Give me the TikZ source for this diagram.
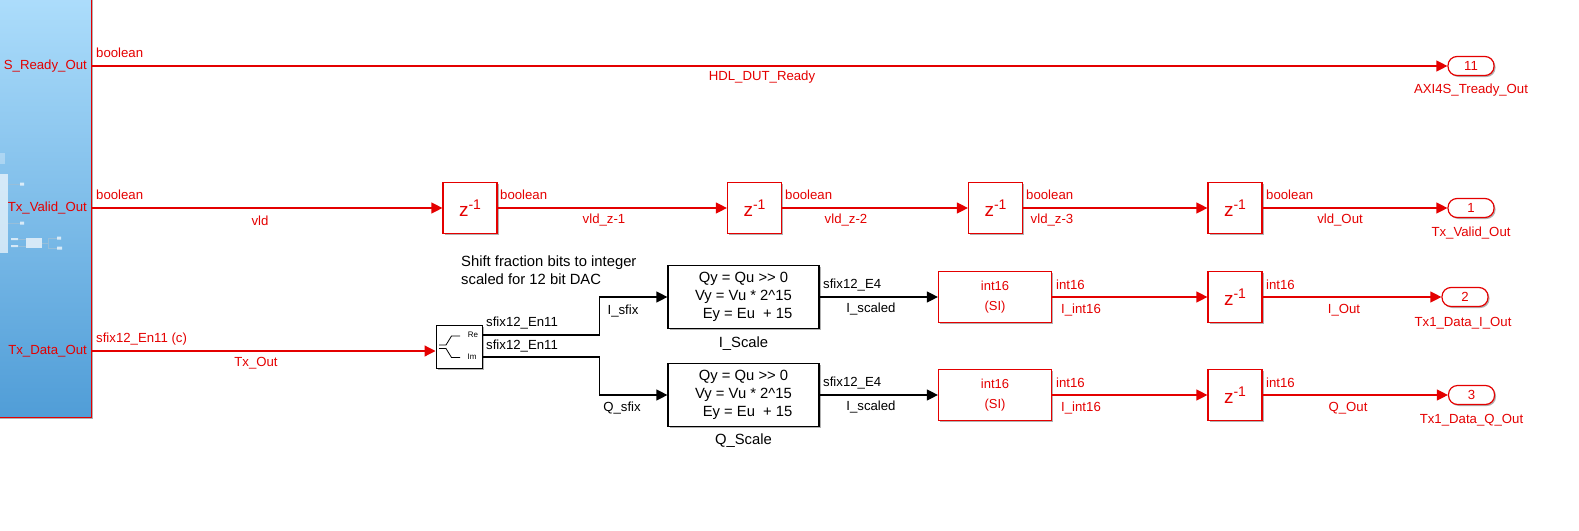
\documentclass[tikz,border=0pt]{standalone}
\usepackage{fontspec}
\setmainfont{Liberation Sans}
\usetikzlibrary{arrows.meta,shadows}

\definecolor{simred}{RGB}{228,0,0}
\definecolor{blocktop}{RGB}{174,222,252}
\definecolor{blockbot}{RGB}{80,157,215}
\definecolor{iconline}{RGB}{150,190,218}

% delay block text
\newcommand{\zdelay}{{\fontsize{19}{19}\selectfont z\raisebox{6.5pt}{\fontsize{14}{14}\selectfont -1}}}

\begin{document}
\begin{tikzpicture}[x=1pt, y=-1pt,
  lbl/.style={font=\fontsize{13.2}{15}\selectfont, text=simred, inner sep=0pt},
  blbl/.style={font=\fontsize{13.2}{15}\selectfont, text=black, inner sep=0pt},
  note/.style={font=\fontsize{14.8}{18}\selectfont, text=black, inner sep=0pt, align=left},
  blkshadow/.style={drop shadow={shadow xshift=1.5pt, shadow yshift=-1.5pt, opacity=0.3, fill=black}},
  delay/.style={draw=simred, fill=white, line width=1.2pt, minimum width=54pt, minimum height=51pt, inner sep=0pt, text=simred, blkshadow},
  conv/.style={draw=simred, fill=white, line width=1.2pt, minimum width=113pt, minimum height=51pt, inner sep=0pt, text=simred, align=center, font=\fontsize{13}{19.6}\selectfont, blkshadow},
  gain/.style={draw=black, fill=white, line width=1.2pt, minimum width=151pt, minimum height=63pt, inner sep=0pt, align=center, font=\fontsize{14.8}{18}\selectfont, blkshadow},
  splitter/.style={draw=black, fill=white, line width=1pt, minimum width=46pt, minimum height=43pt, inner sep=0pt, blkshadow},
  outport/.style={draw=simred, fill=white, line width=1.2pt, rounded corners=9pt, minimum width=46pt, minimum height=19pt, inner sep=0pt, text=simred, font=\fontsize{13.2}{15}\selectfont, blkshadow},
  redsig/.style={draw=simred, line width=1.2pt, -{Triangle[length=11pt, width=11pt]}},
  blacksig/.style={draw=black, line width=1.2pt, -{Triangle[length=11pt, width=11pt]}},
]
\clip (0,0) rectangle (1579,530);

% ========== Subsystem block (left edge) ==========
\draw[top color=blocktop, bottom color=blockbot, draw=simred, line width=1.6pt, blkshadow] (-10,-10) rectangle (91.5,417.5);

% faint icon inside the block
\fill[white, opacity=0.3] (-2,153) rectangle (5,164);
\fill[white, opacity=0.65] (-2,174) rectangle (8,253);
\draw[iconline, line width=0.6pt] (8,184) -- (21,184) (8,223) -- (21,223);
\fill[white, opacity=0.7] (20,182.5) rectangle (24,185.5) (20,221.5) rectangle (24,224.5);
\fill[white, opacity=0.7] (11,238) rectangle (18,240) (11,245) rectangle (18,247);
\draw[iconline, line width=0.6pt] (18,239) -- (26,239) (18,246) -- (26,246);
\fill[white, opacity=0.7] (26,238) rectangle (42,248);
\draw[iconline, line width=0.6pt] (42,243) -- (48,243) (48,238) -- (48,248) (48,238) -- (58,238) (48,248) -- (58,248);
\fill[white, opacity=0.7] (57,236.5) rectangle (61,239.5) (57,246.5) rectangle (62,249.5);

% port names of the block
\node[lbl, anchor=east] (pRdy) at (87,66) {S\_Ready\_Out};
\node[lbl, anchor=east] (pVld) at (87,208) {Tx\_Valid\_Out};
\node[lbl, anchor=east] (pData) at (87,351) {Tx\_Data\_Out};
\coordinate (oRdy) at (91.5,66);
\coordinate (oVld) at (91.5,208);
\coordinate (oData) at (91.5,351);

% ========== Ready path ==========
\node[outport] (out11) at (1471,66) {11};
\draw[redsig] (oRdy) -- (out11.west);
\node[lbl, anchor=west] (tRdyType) at (96,53) {boolean};
\node[lbl] (tRdyName) at (762,77.5) {HDL\_DUT\_Ready};
\node[lbl] (nOut11) at (1471,89.6) {AXI4S\_Tready\_Out};

% ========== Valid path (four delays) ==========
\node[delay] (d1) at (470,208) {\zdelay};
\node[delay] (d2) at (754.5,208) {\zdelay};
\node[delay] (d3) at (995.5,208) {\zdelay};
\node[delay] (d4) at (1235,208) {\zdelay};
\node[outport] (out1) at (1471,208) {1};

\draw[redsig] (oVld) -- (d1.west);
\draw[redsig] (d1.east) -- (d2.west);
\draw[redsig] (d2.east) -- (d3.west);
\draw[redsig] (d3.east) -- (d4.west);
\draw[redsig] (d4.east) -- (out1.west);

\node[lbl, anchor=west] (tVldType0) at (96,195) {boolean};
\node[lbl, anchor=west] (tVldType1) at (500,195) {boolean};
\node[lbl, anchor=west] (tVldType2) at (785,195) {boolean};
\node[lbl, anchor=west] (tVldType3) at (1026,195) {boolean};
\node[lbl, anchor=west] (tVldType4) at (1266,195) {boolean};
\node[lbl] (tVld0) at (260,220.5) {vld};
\node[lbl] (tVld1) at (604,220.5) {vld\_z-1};
\node[lbl] (tVld2) at (846,220.5) {vld\_z-2};
\node[lbl] (tVld3) at (1052,220.5) {vld\_z-3};
\node[lbl] (tVld4) at (1340,220.5) {vld\_Out};
\node[lbl] (nOut1) at (1471,232.6) {Tx\_Valid\_Out};

% ========== Data path: complex to real/imag ==========
\node[splitter] (cplx) at (459,346.5) {};
\draw[line width=0.8pt] (439,345) -- (446,345) -- (451.5,336) -- (460,336);
\draw[line width=0.8pt] (439,348.5) -- (446,348.5) -- (451.5,357.5) -- (460,357.5);
\node[font=\fontsize{8}{9}\selectfont, inner sep=0pt] (tRe) at (473,335) {Re};
\node[font=\fontsize{8}{9}\selectfont, inner sep=0pt] (tIm) at (472,357) {Im};
\coordinate (re) at ([yshift=11.5pt]cplx.east);
\coordinate (im) at ([yshift=-10.5pt]cplx.east);

\draw[redsig] (oData) -- (oData -| cplx.west);
\node[lbl, anchor=west] (tDataType) at (96,338.7) {sfix12\_En11 (c)};
\node[lbl] (tData) at (256,363.3) {Tx\_Out};

% note above the scaling blocks
\node[note, anchor=west] (shiftNote) at (461,270) {Shift fraction bits to integer\\scaled for 12 bit DAC};

% ========== Scaling blocks ==========
\node[gain] (iscale) at (743.5,297) {Qy = Qu >{}> 0\\Vy = Vu * 2\textasciicircum 15\\\ \ Ey = Eu\ \ + 15};
\node[gain] (qscale) at (743.5,395) {Qy = Qu >{}> 0\\Vy = Vu * 2\textasciicircum 15\\\ \ Ey = Eu\ \ + 15};
\node[note] (tIScale) at (743.5,344) {I\_Scale};
\node[note] (tQScale) at (743.5,441) {Q\_Scale};

\draw[blacksig] (re) -- ++(117,0) |- (iscale.west);
\draw[blacksig] (im) -- ++(117,0) |- (qscale.west);
\node[blbl, anchor=west] (tReType) at (486,323) {sfix12\_En11};
\node[blbl, anchor=west] (tImType) at (486,346) {sfix12\_En11};
\node[blbl] (tIsfix) at (623,311) {I\_sfix};
\node[blbl] (tQsfix) at (622,408) {Q\_sfix};

% ========== I path ==========
\node[conv] (ci) at (995,297) {int16\\(SI)};
\node[delay] (d5) at (1235,297) {\zdelay};
\node[outport] (out2) at (1465,297) {2};
\draw[blacksig] (iscale.east) -- (ci.west);
\draw[redsig] (ci.east) -- (d5.west);
\draw[redsig] (d5.east) -- (out2.west);
\node[blbl, anchor=west] (tIType) at (823,285) {sfix12\_E4};
\node[blbl] (tIscaled) at (871,309) {I\_scaled};
\node[lbl, anchor=west] (tIint) at (1056,285) {int16};
\node[lbl, anchor=west] (tIname) at (1061,310.5) {I\_int16};
\node[lbl, anchor=west] (tIint2) at (1266,285) {int16};
\node[lbl] (tIout) at (1344,310) {I\_Out};
\node[lbl] (nOut2) at (1463,322.7) {Tx1\_Data\_I\_Out};

% ========== Q path ==========
\node[conv] (cq) at (995,395) {int16\\(SI)};
\node[delay] (d6) at (1235,395) {\zdelay};
\node[outport] (out3) at (1471.5,395) {3};
\draw[blacksig] (qscale.east) -- (cq.west);
\draw[redsig] (cq.east) -- (d6.west);
\draw[redsig] (d6.east) -- (out3.west);
\node[blbl, anchor=west] (tQType) at (823,383) {sfix12\_E4};
\node[blbl] (tQscaled) at (871,407) {I\_scaled};
\node[lbl, anchor=west] (tQint) at (1056,383) {int16};
\node[lbl, anchor=west] (tQname) at (1061,408.3) {I\_int16};
\node[lbl, anchor=west] (tQint2) at (1266,383) {int16};
\node[lbl] (tQout) at (1348,408) {Q\_Out};
\node[lbl] (nOut3) at (1471.5,420) {Tx1\_Data\_Q\_Out};

\end{tikzpicture}
\end{document}
